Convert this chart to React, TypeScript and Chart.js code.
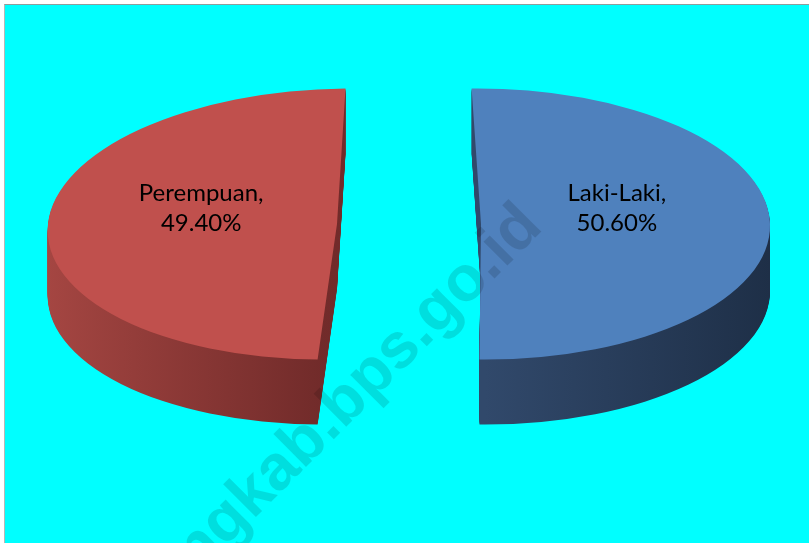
import React, { useEffect, useRef } from 'react';
import { Chart, registerables } from 'chart.js';

Chart.register(...registerables);

// ---- data ----
const categories = ['Laki-Laki', 'Perempuan'];
const percentages = [50.6, 49.4];
const valueLabels = ['50.60%', '49.40%'];
const watermarkText = 'ngkab.bps.go.id';

// ---- styles ----
const topColors = ['#4F81BD', '#C0504D'];
const sideColors = [
  ['#31496b', '#1e2f47'],
  ['#a54642', '#712b2a'],
];
const SKEW = [0.029, -0.103]; // per-slice perspective lean
const W = 809;
const H = 543;
const CX = 409; // screen centre of pie top
const CY = 224;
const SQUASH = 0.469;
const DEPTH = 65;
const EXPLODE = 72; // px each slice is pulled out
const RADIUS = 289;
const ROTATION = -1.08;
const LABEL_DY = -16;
const LABEL_POS = 0.47;

function setColor(el: any, color: any) {
  const prev = el.options.backgroundColor;
  el.options.backgroundColor = color;
  return prev;
}

const pie3d = {
  id: 'pie3d',
  beforeDatasetsDraw(chart: any) {
    const meta = chart.getDatasetMeta(0);
    const els = meta.data as any[];
    if (!els.length) return false;
    const ctx: CanvasRenderingContext2D = chart.ctx;
    const x0 = els[0].x;
    const y0 = els[0].y;
    const place = (el: any, i: number, dy: number) => {
      const half = (el.startAngle + el.endAngle) / 2;
      ctx.translate(CX + Math.cos(half) * EXPLODE, CY + Math.sin(half) * EXPLODE * SQUASH + dy);
      ctx.transform(1, 0, SKEW[i], 1, 0, 0);
      ctx.scale(1, SQUASH);
      ctx.translate(-x0, -y0);
    };
    const grads = els.map((el, i) => {
      const half = (el.startAngle + el.endAngle) / 2;
      const r = el.outerRadius;
      const a = Math.cos(half) < 0 ? x0 - r : x0;
      const b = Math.cos(half) < 0 ? x0 : x0 + r;
      const g = ctx.createLinearGradient(a, 0, b, 0);
      g.addColorStop(0, sideColors[i][0]);
      g.addColorStop(1, sideColors[i][1]);
      return g;
    });
    els.forEach((el, i) => {
      for (let k = DEPTH; k >= 1; k--) {
        ctx.save();
        place(el, i, k);
        const prev = setColor(el, grads[i]);
        el.draw(ctx);
        setColor(el, prev);
        ctx.restore();
      }
      ctx.save();
      place(el, i, 0);
      el.draw(ctx);
      ctx.restore();
    });
    return false;
  },
  afterDraw(chart: any) {
    const meta = chart.getDatasetMeta(0);
    const els = meta.data as any[];
    const ctx: CanvasRenderingContext2D = chart.ctx;
    if (!els.length) return;
    // labels
    ctx.save();
    ctx.fillStyle = '#000';
    ctx.font = '24px Lato, "Noto Sans", sans-serif';
    ctx.textAlign = 'center';
    ctx.textBaseline = 'middle';
    els.forEach((el, i) => {
      const half = (el.startAngle + el.endAngle) / 2;
      const d = EXPLODE + el.outerRadius * LABEL_POS;
      const sx = CX + Math.cos(half) * d;
      const sy = CY + Math.sin(half) * d * SQUASH + LABEL_DY;
      ctx.fillText(categories[i] + ',', sx, sy - 15);
      ctx.fillText(valueLabels[i], sx, sy + 15);
    });
    ctx.restore();
    // watermark
    ctx.save();
    ctx.font = 'bold 64px "Liberation Sans", Arial, sans-serif';
    ctx.fillStyle = 'rgba(0, 0, 0, 0.13)';
    ctx.textBaseline = 'alphabetic';
    const pre = ctx.measureText('ngkab.bps').width + ctx.measureText('.').width / 2;
    ctx.translate(430, 343);
    ctx.rotate(-Math.PI / 4);
    ctx.fillText(watermarkText, -pre, 0);
    ctx.restore();
  },
};

export default function App() {
  const ref = useRef<HTMLCanvasElement>(null);
  useEffect(() => {
    document.body.style.margin = '0';
    const chart = new Chart(ref.current as HTMLCanvasElement, {
      type: 'pie',
      data: {
        labels: categories,
        datasets: [
          {
            data: percentages,
            backgroundColor: topColors,
            borderWidth: 0,
            radius: RADIUS,
            rotation: ROTATION,
          } as any,
        ],
      },
      options: {
        responsive: false,
        animation: false,
        events: [],
        rotation: ROTATION,
        layout: { padding: 0 },
        plugins: { legend: { display: false }, tooltip: { enabled: false } },
      } as any,
      plugins: [pie3d as any],
    });
    return () => chart.destroy();
  }, []);
  return (
    <div style={{ position: 'relative', width: W, height: H, background: '#fff', overflow: 'hidden' }}>
      <div
        style={{
          position: 'absolute',
          left: 4,
          top: 4,
          width: W - 4,
          height: H - 4,
          background: '#00ffff',
          borderLeft: '1px solid #b4b8b8',
          borderTop: '1px solid #8e9c9c',
          boxSizing: 'border-box',
        }}
      />
      <canvas ref={ref} width={W} height={H} style={{ position: 'absolute', left: 0, top: 0 }} />
    </div>
  );
}
